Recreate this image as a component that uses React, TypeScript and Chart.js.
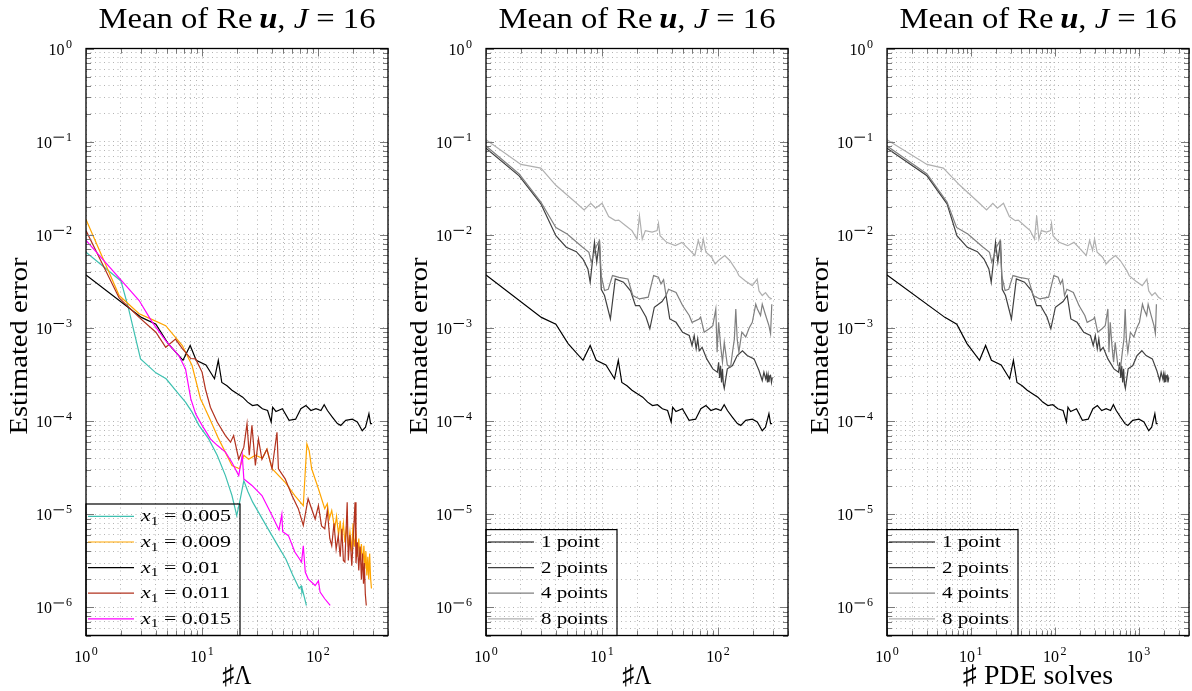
import { useEffect, useRef } from 'react';
import { Chart, registerables } from 'chart.js';

Chart.register(...registerables);

// ---------------- Data ----------------
// Panel 1: #Lambda vs estimated error, different x1
const lambdaX005 = [1, 2.0, 2.31, 2.95, 4.0, 4.9, 6.4, 7.2, 8.2, 9.4, 11.4, 13.5, 15.9, 18.1, 19.9, 21.2, 22.9, 24.8, 27.3, 35.6, 43.3, 52.8, 60, 68.6, 71.5, 72.5, 73.3, 79.3];
const errX005 = [6.5e-3, 3.2e-3, 1.67e-3, 4.66e-4, 3.3e-4, 2.85e-4, 1.9e-4, 1.6e-4, 1.25e-4, 9e-5, 6.45e-5, 4.3e-5, 2.6e-5, 1.59e-5, 9.7e-6, 1.4e-5, 2.3e-5, 1.76e-5, 1.35e-5, 7.6e-6, 5e-6, 3.3e-6, 2.27e-6, 1.6e-6, 1.7e-6, 1.45e-6, 1.55e-6, 1.05e-6];

const lambdaX009 = [1, 1.93, 2.87, 3.73, 4.86, 6.76, 8.2, 9.7, 10, 11.8, 13.9, 18.1, 21, 22.9, 25.2, 28.8, 33, 36.2, 40.1, 52, 63, 74.5, 80, 83.8, 88, 100.6, 114, 120, 125, 131, 139, 144, 150, 155, 159, 165, 170, 176, 182, 188, 195, 200, 205, 212, 218, 224, 230, 236, 242, 248, 253, 258, 263, 268, 273, 278, 283, 288];
const errX009 = [1.46e-2, 2.23e-3, 1.42e-3, 1.23e-3, 1.06e-3, 6.47e-4, 3.95e-4, 1.73e-4, 1.6e-4, 1.02e-4, 6.45e-5, 3.34e-5, 3.08e-5, 4.3e-5, 3.9e-5, 4.3e-5, 4.0e-5, 5e-5, 3.08e-5, 2.2e-5, 1.59e-5, 1.24e-5, 5.7e-5, 4.8e-5, 3.08e-5, 1.88e-5, 1.15e-5, 1.3e-5, 9e-6, 1.1e-5, 7e-6, 9.5e-6, 6e-6, 8.5e-6, 5.5e-6, 8e-6, 5e-6, 7.5e-6, 4.5e-6, 6.5e-6, 4e-6, 8e-6, 4.5e-6, 6e-6, 3.5e-6, 5.5e-6, 3.2e-6, 4.8e-6, 2.8e-6, 4.6e-6, 2.6e-6, 4e-6, 2.2e-6, 3.5e-6, 2.0e-6, 3.8e-6, 2.1e-6, 1.6e-6];

// x1 = 0.01 is the same run as "1 point"
const lambdaOnePoint = [1, 3.0, 4.0, 5.1, 6.85, 7.9, 8.9, 10.8, 12.8, 13.8, 14.8, 16.4, 18.1, 20.3, 22.4, 24.7, 27.2, 30.0, 33.1, 36.7, 39.4, 40.6, 43.3, 49.2, 56.2, 64, 71, 78.5, 86.7, 95.8, 105.7, 112.8, 120.3, 133, 146.6, 156.7, 172.9, 197, 217.6, 240, 256, 274, 283, 292];
const pdeOnePoint = [1, 4.9, 6.8, 9.0, 12.7, 15.0, 17.6, 23.0, 29.0, 32.2, 35.5, 40.9, 47, 55, 63, 72, 83, 95, 109, 126, 138, 144, 155, 182, 214, 251, 286, 323, 364, 411, 464, 501, 542, 612, 689, 746, 853, 1014, 1161, 1324, 1435, 1566, 1630, 1694];
const errOnePoint = [3.7e-3, 1.3e-3, 1.1e-3, 6.8e-4, 4.5e-4, 6.5e-4, 4.5e-4, 4.0e-4, 2.85e-4, 4.5e-4, 2.6e-4, 2.4e-4, 2.15e-4, 1.96e-4, 1.81e-4, 1.6e-4, 1.47e-4, 1.5e-4, 1.36e-4, 1.3e-4, 9.8e-5, 1.41e-4, 1.27e-4, 1.36e-4, 1.02e-4, 1.05e-4, 1.36e-4, 1.47e-4, 1.3e-4, 1.36e-4, 1.3e-4, 1.5e-4, 1.3e-4, 1.1e-4, 9.4e-5, 9.0e-5, 1.02e-4, 1.05e-4, 9.8e-5, 7.9e-5, 8.6e-5, 1.2e-4, 9.4e-5, 9.4e-5];

const lambdaX011 = [1, 1.93, 2.87, 4.0, 4.86, 5.9, 6.76, 8.0, 8.8, 10, 10.7, 11.8, 13.5, 15.9, 17.6, 18.7, 20.7, 22.9, 24.4, 25.5, 26.9, 28.8, 30.6, 32.8, 36.2, 40.1, 44.2, 45.5, 52, 59.5, 67.5, 74.5, 82, 94.3, 100.6, 107, 114, 120, 126, 131, 137, 143, 149, 155, 160, 165, 170, 178, 182, 188, 195, 200, 208, 212, 218, 224, 230, 236, 241, 246, 250, 255, 260];
const errX011 = [1.11e-2, 2.1e-3, 1.3e-3, 9e-4, 6.2e-4, 7.6e-4, 6.0e-4, 4.7e-4, 4.66e-4, 3.36e-4, 2.2e-4, 1.41e-4, 9.8e-5, 7e-5, 5.95e-5, 7e-5, 3.9e-5, 5.26e-5, 9.4e-5, 4.3e-5, 9e-5, 3.34e-5, 6.45e-5, 3.9e-5, 5e-5, 3.08e-5, 7.6e-5, 3.08e-5, 2.4e-5, 1.59e-5, 1.15e-5, 7.6e-6, 1.47e-5, 8.9e-6, 1.24e-5, 7.5e-6, 7e-6, 1.1e-5, 5.5e-6, 4.6e-6, 8e-6, 4.2e-6, 5.9e-6, 3.5e-6, 7e-6, 3.2e-6, 3.07e-6, 1.35e-5, 3.2e-6, 6e-6, 2.8e-6, 5e-6, 1.35e-5, 3e-6, 5e-6, 2.5e-6, 4.5e-6, 2.0e-6, 3.8e-6, 1.8e-6, 3e-6, 1.4e-6, 1.05e-6];

const lambdaX015 = [1, 2.87, 3.73, 4.86, 6.3, 7.2, 8.0, 8.8, 10, 11.8, 13.5, 15.9, 18.1, 20.7, 22.2, 22.9, 26.9, 32.8, 40.1, 46, 48.7, 49.5, 55.5, 63, 72, 74.5, 77.5, 82, 94.3, 100.6, 104, 114, 127];
const errX015 = [8.7e-3, 1.97e-3, 1.15e-3, 7.3e-4, 5.06e-4, 3.64e-4, 1.73e-4, 1.2e-4, 9e-5, 6.45e-5, 5.5e-5, 4.65e-5, 3.6e-5, 2.6e-5, 4.3e-5, 2.4e-5, 2.04e-5, 1.59e-5, 9.7e-6, 6.8e-6, 1.0e-5, 6.5e-6, 5.9e-6, 3.93e-6, 3.07e-6, 4.6e-6, 2.4e-6, 2.03e-6, 1.72e-6, 1.93e-6, 1.46e-6, 1.24e-6, 1.05e-6];

// Panels 2 and 3: number of points
const lambdaTwoPoints = [1, 1.93, 2.97, 4.0, 4.92, 6.0, 6.84, 7.55, 7.9, 8.6, 9.0, 9.5, 9.84, 10.5, 11.8, 13.0, 15.3, 17.6, 19.4, 21, 23.9, 25.8, 28.2, 32.9, 35.6, 38.3, 43.4, 49.4, 56.4, 59.6, 62.2, 64.7, 66.7, 68.7, 72.8, 79.8, 90, 98.5, 101, 103, 105, 107, 109, 111, 113, 120, 133, 146, 162, 178, 204, 225, 240, 248, 257, 262, 266, 270, 274, 278, 283, 288, 293];
const pdeTwoPoints = [1, 3.0, 5.2, 6.82, 9.08, 11.97, 14.35, 16.4, 17.5, 19.7, 21, 22.6, 23.7, 25.9, 30.5, 34.9, 43.7, 53.1, 60.8, 67.8, 81, 90, 102, 126, 141, 156, 185, 222, 267, 288, 305, 322, 336, 350, 379, 431, 509, 577, 597, 614, 631, 647, 664, 680, 697, 752, 855, 960, 1096, 1230, 1462, 1650, 1787, 1862, 1950, 1995, 2033, 2071, 2113, 2148, 2198, 2246, 2296];
const errTwoPoints = [0.085, 4.3e-2, 2.15e-2, 9.8e-3, 7.35e-3, 6.6e-3, 5.5e-3, 4.3e-3, 3.1e-3, 8.3e-3, 5.1e-3, 8.7e-3, 2.6e-3, 2.23e-3, 1.25e-3, 3.36e-3, 3.1e-3, 2.5e-3, 1.74e-3, 1.74e-3, 1.31e-3, 9.8e-4, 1.67e-3, 1.92e-3, 2.23e-3, 1.25e-3, 1.15e-3, 9e-4, 8.3e-4, 6.48e-4, 8.3e-4, 5.97e-4, 7.64e-4, 5.7e-4, 6.2e-4, 4.66e-4, 3.64e-4, 3.35e-4, 4.29e-4, 2.9e-4, 3.9e-4, 2.6e-4, 3.64e-4, 2.5e-4, 2.25e-4, 3.64e-4, 3.95e-4, 5.06e-4, 5.7e-4, 5.06e-4, 4.66e-4, 3.5e-4, 2.73e-4, 3.35e-4, 2.84e-4, 3.2e-4, 2.6e-4, 3.1e-4, 2.62e-4, 3.0e-4, 3.09e-4, 2.6e-4, 2.95e-4];

const lambdaFourPoints = [1, 1.93, 2.97, 4.0, 5.0, 6.76, 7.7, 8.07, 8.9, 9.5, 9.84, 10.5, 11.3, 12.3, 14, 16.7, 18.4, 21, 25, 27.8, 30.6, 32.2, 33.9, 35.6, 37.4, 43.4, 49.4, 56.4, 59.6, 68.7, 70.7, 75.8, 83.7, 90, 95.5, 98, 101, 105, 109, 113, 120, 128, 133, 138, 142, 146, 151, 160, 173, 185, 197, 211, 218, 232, 240, 257, 274, 283, 290];
const pdeFourPoints = [1, 3.0, 5.2, 6.76, 9.2, 13.9, 16.7, 17.8, 20.4, 22.3, 23.4, 25.6, 28.3, 31.8, 38, 48.5, 55.5, 66.5, 84.7, 97.7, 110, 117, 124, 131, 140, 167, 195, 229, 244, 290, 299, 326, 367, 401, 431, 444, 460, 482, 504, 527, 566, 612, 641, 670, 693, 716, 746, 800, 879, 953, 1026, 1114, 1159, 1250, 1303, 1416, 1528, 1589, 1634];
const errFourPoints = [0.09, 4.5e-2, 2.25e-2, 1.2e-2, 1.02e-2, 7.4e-3, 6.5e-3, 5.1e-3, 7.5e-3, 8.67e-3, 3.65e-3, 2.52e-3, 2.6e-3, 3.65e-3, 3.5e-3, 3.36e-3, 2.23e-3, 2.05e-3, 2.14e-3, 3.65e-3, 3.5e-3, 2.97e-3, 3.3e-3, 2.23e-3, 2.6e-3, 2.4e-3, 1.74e-3, 1.36e-3, 1.15e-3, 1.25e-3, 1.31e-3, 9.01e-4, 9.8e-4, 1.06e-3, 1.6e-3, 5.5e-4, 1.15e-3, 6.5e-4, 4.3e-4, 7e-4, 4.0e-4, 3.8e-4, 5.5e-4, 7.6e-4, 1.6e-3, 7.6e-4, 5.5e-4, 9e-4, 8e-4, 1.0e-3, 1.15e-3, 1.8e-3, 1.6e-3, 1.36e-3, 1.8e-3, 1.36e-3, 1.06e-3, 8.7e-4, 1.8e-3];

const lambdaEightPoints = [1, 2.0, 2.97, 4.0, 5.9, 7.0, 8.0, 8.8, 10, 11.4, 13.0, 13.9, 15.9, 18.1, 20, 21, 22.2, 23.6, 27, 29.8, 30.6, 31.6, 36, 42.8, 48.7, 55.5, 63, 67.5, 71.6, 74.5, 78.5, 88, 94.3, 100.6, 114, 126, 144, 151, 172, 197, 217, 225, 240, 256, 274, 290];
const pdeEightPoints = [1, 3.0, 4.7, 7.4, 12.3, 15.4, 18.3, 20.7, 24.5, 28.8, 33.9, 36.8, 43.4, 50.9, 57.5, 61, 64.8, 69.3, 80, 89, 91.6, 95.5, 113, 143, 170, 201, 238, 261, 283, 299, 321, 373, 411, 448, 530, 606, 726, 774, 924, 1107, 1260, 1324, 1445, 1575, 1729, 1862];
const errEightPoints = [0.105, 5.7e-2, 5.2e-2, 3.4e-2, 2.24e-2, 1.85e-2, 2.18e-2, 1.93e-2, 2.18e-2, 1.57e-2, 1.42e-2, 1.44e-2, 1.26e-2, 1.11e-2, 9e-3, 1.6e-2, 9e-3, 1.11e-2, 1.07e-2, 1.11e-2, 1.33e-2, 9.8e-3, 8.3e-3, 7.65e-3, 8.3e-3, 7.06e-3, 6e-3, 8.7e-3, 6.8e-3, 9e-3, 6.5e-3, 5.75e-3, 4.87e-3, 5.3e-3, 6e-3, 5.3e-3, 4.13e-3, 3.65e-3, 3.2e-3, 2.85e-3, 3.35e-3, 2.5e-3, 2.23e-3, 2.4e-3, 2.14e-3, 2.05e-3];

// Labels / axis
const x1Values = ['0.005', '0.009', '0.01', '0.011', '0.015'];
const pointLabels = ['1 point', '2 points', '4 points', '8 points'];
const yExponents = [0, -1, -2, -3, -4, -5, -6];
const lambdaExponents = [0, 1, 2];
const pdeExponents = [0, 1, 2, 3];
const Y_MIN = 5e-7;
const Y_MAX = 1;
const LAMBDA_MAX = 400;
const PDE_MAX = 4000;

// ---------------- Drawing helpers ----------------
const SERIF = '"Liberation Serif", "Times New Roman", serif';
const fnt = (size: number, style = '') => `${style} ${size}px ${SERIF}`.trim();

type Seg = { t?: string; f?: string; dy?: number; rule?: number; gap?: number };

function segW(ctx: CanvasRenderingContext2D, s: Seg) {
  if (s.gap) return s.gap;
  if (s.rule) return s.rule;
  ctx.font = s.f || fnt(16);
  return ctx.measureText(s.t || '').width;
}

function segsWidth(ctx: CanvasRenderingContext2D, segs: Seg[]) {
  let w = 0;
  for (const s of segs) w += segW(ctx, s);
  return w;
}

function drawSegs(ctx: CanvasRenderingContext2D, segs: Seg[], x: number, y: number, align: 'left' | 'center' | 'right', sx = 1) {
  const w = segsWidth(ctx, segs) * sx;
  const x0 = align === 'left' ? x : align === 'center' ? x - w / 2 : x - w;
  ctx.save();
  ctx.translate(x0, y);
  ctx.scale(sx, 1);
  ctx.textAlign = 'left';
  ctx.textBaseline = 'alphabetic';
  ctx.fillStyle = '#000';
  let cx = 0;
  for (const s of segs) {
    const w1 = segW(ctx, s);
    if (s.rule) {
      ctx.fillRect(cx, (s.dy || 0) - 0.5, s.rule, 1);
    } else if (s.t) {
      ctx.font = s.f || fnt(16);
      ctx.fillText(s.t, cx, s.dy || 0);
    }
    cx += w1;
  }
  ctx.restore();
}

const powLabel = (e: number): Seg[] => {
  const segs: Seg[] = [{ t: '10', f: fnt(16) }, { gap: 1.5 }];
  if (e < 0) {
    segs.push({ rule: 10.5, dy: -10.5 });
    segs.push({ gap: 2 });
  }
  segs.push({ t: String(Math.abs(e)), f: fnt(12), dy: -7 });
  return segs;
};

function logTicks(min: number, max: number) {
  const out: { v: number; major: boolean }[] = [];
  for (let e = Math.floor(Math.log10(min)); e <= Math.ceil(Math.log10(max)); e++) {
    for (let m = 1; m <= 9; m++) {
      const v = m * Math.pow(10, e);
      if (v >= min * 0.999999 && v <= max * 1.000001) out.push({ v, major: m === 1 });
    }
  }
  return out;
}

const titleSegs: Seg[] = [
  { t: 'Mean of Re\u2009', f: fnt(29) },
  { t: 'u', f: fnt(29, 'italic bold') },
  { t: ', ', f: fnt(29) },
  { t: 'J', f: fnt(29, 'italic') },
  { t: ' = 16', f: fnt(29) },
];
const yTitleSegs: Seg[] = [{ t: 'Estimated error', f: fnt(26) }];

interface Series { label: Seg[]; color: string; x: number[]; y: number[] }
interface PanelCfg {
  id: string;
  width: number;
  padLeft: number;
  padRight: number;
  xMax: number;
  xExps: number[];
  xTitle: Seg[];
  xTitleWidth: number;
  series: Series[];
  legendTextWidth: number;
}

const x1Label = (v: string): Seg[] => [
  { t: 'x', f: fnt(17, 'italic') },
  { t: '1', f: fnt(12), dy: 3.5 },
  { t: ' = ' + v, f: fnt(17) },
];
const ptLabel = (s: string): Seg[] => [{ t: s, f: fnt(17) }];

const pointColors = ['#000000', '#404040', '#7f7f7f', '#b0b0b0'];

const panels: PanelCfg[] = [
  {
    id: 'p1', width: 400, padLeft: 86, padRight: 12, xMax: LAMBDA_MAX, xExps: lambdaExponents,
    xTitle: [{ t: '\u266FΛ', f: fnt(27) }], xTitleWidth: 29, legendTextWidth: 90,
    series: [
      { label: x1Label(x1Values[0]), color: '#3EC0B0', x: lambdaX005, y: errX005 },
      { label: x1Label(x1Values[1]), color: '#FFA500', x: lambdaX009, y: errX009 },
      { label: x1Label(x1Values[2]), color: '#000000', x: lambdaOnePoint, y: errOnePoint },
      { label: x1Label(x1Values[3]), color: '#B2321E', x: lambdaX011, y: errX011 },
      { label: x1Label(x1Values[4]), color: '#FF00FF', x: lambdaX015, y: errX015 },
    ],
  },
  {
    id: 'p2', width: 400, padLeft: 86, padRight: 12, xMax: LAMBDA_MAX, xExps: lambdaExponents,
    xTitle: [{ t: '\u266FΛ', f: fnt(27) }], xTitleWidth: 29, legendTextWidth: 67,
    series: [
      { label: ptLabel(pointLabels[0]), color: pointColors[0], x: lambdaOnePoint, y: errOnePoint },
      { label: ptLabel(pointLabels[1]), color: pointColors[1], x: lambdaTwoPoints, y: errTwoPoints },
      { label: ptLabel(pointLabels[2]), color: pointColors[2], x: lambdaFourPoints, y: errFourPoints },
      { label: ptLabel(pointLabels[3]), color: pointColors[3], x: lambdaEightPoints, y: errEightPoints },
    ],
  },
  {
    id: 'p3', width: 392, padLeft: 87, padRight: 3, xMax: PDE_MAX, xExps: pdeExponents,
    xTitle: [{ t: '\u266F PDE solves', f: fnt(27) }], xTitleWidth: 150, legendTextWidth: 67,
    series: [
      { label: ptLabel(pointLabels[0]), color: pointColors[0], x: pdeOnePoint, y: errOnePoint },
      { label: ptLabel(pointLabels[1]), color: pointColors[1], x: pdeTwoPoints, y: errTwoPoints },
      { label: ptLabel(pointLabels[2]), color: pointColors[2], x: pdeFourPoints, y: errFourPoints },
      { label: ptLabel(pointLabels[3]), color: pointColors[3], x: pdeEightPoints, y: errEightPoints },
    ],
  },
];

const H = 691;
const PAD_TOP = 48.5;
const PAD_BOTTOM = H - 635.5;

function makePlugin(cfg: PanelCfg) {
  return {
    id: 'decor_' + cfg.id,
    afterDraw(chart: any) {
      const ctx: CanvasRenderingContext2D = chart.ctx;
      const a = chart.chartArea;
      const xs = chart.scales.x;
      const ys = chart.scales.y;
      ctx.save();

      // inside ticks on all four sides
      ctx.strokeStyle = '#7a7a7a';
      ctx.lineWidth = 1;
      ctx.beginPath();
      for (const t of logTicks(Y_MIN, Y_MAX)) {
        const p = Math.round(ys.getPixelForValue(t.v)) + 0.5;
        const L = t.major ? 8 : 5;
        ctx.moveTo(a.left, p); ctx.lineTo(a.left + L, p);
        ctx.moveTo(a.right - L, p); ctx.lineTo(a.right, p);
      }
      for (const t of logTicks(1, cfg.xMax)) {
        const p = Math.round(xs.getPixelForValue(t.v)) + 0.5;
        const L = t.major ? 8 : 5;
        ctx.moveTo(p, a.bottom); ctx.lineTo(p, a.bottom - L);
        ctx.moveTo(p, a.top); ctx.lineTo(p, a.top + L);
      }
      ctx.stroke();

      // frame
      ctx.strokeStyle = '#000';
      ctx.lineWidth = 1.3;
      ctx.strokeRect(a.left, a.top, a.right - a.left, a.bottom - a.top);

      // tick labels
      for (const e of yExponents) {
        const p = ys.getPixelForValue(Math.pow(10, e));
        drawSegs(ctx, powLabel(e), a.left - 14, p + 6, 'right');
      }
      for (const e of cfg.xExps) {
        const p = xs.getPixelForValue(Math.pow(10, e));
        drawSegs(ctx, powLabel(e), p, a.bottom + 26, 'center');
      }

      // title
      const cxA = (a.left + a.right) / 2;
      const tsx = 277 / segsWidth(ctx, titleSegs);
      drawSegs(ctx, titleSegs, cxA, 28, 'center', tsx);

      // y title
      ctx.save();
      ctx.translate(a.left - 59, 346);
      ctx.rotate(-Math.PI / 2);
      drawSegs(ctx, yTitleSegs, 0, 0, 'center', 177 / segsWidth(ctx, yTitleSegs));
      ctx.restore();

      // x title
      drawSegs(ctx, cfg.xTitle, cxA, a.bottom + 48, 'center', cfg.xTitleWidth / segsWidth(ctx, cfg.xTitle));

      // legend
      const n = cfg.series.length;
      let maxW = 0;
      for (const s of cfg.series) maxW = Math.max(maxW, segsWidth(ctx, s.label));
      const lsx = cfg.legendTextWidth / maxW;
      const rowH = 25.6;
      const boxH = n * rowH + 3.5;
      const boxW = 2 + 46 + 7 + cfg.legendTextWidth + 9;
      const bx = a.left;
      const by = a.bottom - boxH;
      cfg.series.forEach((s, i) => {
        const ry = by + 12.4 + i * rowH;
        ctx.strokeStyle = s.color;
        ctx.lineWidth = 1.2;
        ctx.beginPath();
        ctx.moveTo(bx + 2, ry);
        ctx.lineTo(bx + 48, ry);
        ctx.stroke();
        drawSegs(ctx, s.label, bx + 55, ry + 5, 'left', lsx);
      });
      ctx.strokeStyle = '#000';
      ctx.lineWidth = 1.2;
      ctx.strokeRect(bx, by, boxW, boxH);

      ctx.restore();
    },
  };
}

function Panel({ cfg, left }: { cfg: PanelCfg; left: number }) {
  const ref = useRef<HTMLCanvasElement>(null);
  useEffect(() => {
    const canvas = ref.current;
    if (!canvas) return;
    const n = cfg.series.length;
    const gridCommon = {
      color: '#b4b4b4',
      lineWidth: 1,
      drawTicks: false,
    };
    const chart = new Chart(canvas, {
      type: 'line',
      data: {
        datasets: cfg.series.map((s, i) => ({
          label: s.label.map((g) => g.t || '').join(''),
          data: s.x.map((x, j) => ({ x, y: s.y[j] })),
          borderColor: s.color,
          backgroundColor: s.color,
          borderWidth: 1.2,
          pointRadius: 0,
          tension: 0,
          fill: false,
          order: n - i,
        })),
      },
      options: {
        animation: false,
        responsive: false,
        maintainAspectRatio: false,
        devicePixelRatio: 1,
        events: [],
        layout: { padding: { left: cfg.padLeft, right: cfg.padRight, top: PAD_TOP, bottom: PAD_BOTTOM } },
        plugins: { legend: { display: false }, title: { display: false }, tooltip: { enabled: false } },
        scales: {
          x: {
            type: 'logarithmic',
            min: 1,
            max: cfg.xMax,
            ticks: { display: false, autoSkip: false },
            grid: gridCommon,
            border: { display: false, dash: [1, 3.5] },
            afterBuildTicks: (scale: any) => {
              scale.ticks = logTicks(1, cfg.xMax).map((t) => ({ value: t.v }));
            },
            afterFit: (scale: any) => {
              scale.height = 0;
            },
          },
          y: {
            type: 'logarithmic',
            min: Y_MIN,
            max: Y_MAX,
            ticks: { display: false, autoSkip: false },
            grid: gridCommon,
            border: { display: false, dash: [1, 3.5] },
            afterBuildTicks: (scale: any) => {
              scale.ticks = logTicks(Y_MIN, Y_MAX).map((t) => ({ value: t.v }));
            },
            afterFit: (scale: any) => {
              scale.width = 0;
            },
          },
        },
      } as any,
      plugins: [makePlugin(cfg)],
    });
    return () => chart.destroy();
  }, [cfg]);
  return (
    <canvas
      ref={ref}
      width={cfg.width}
      height={H}
      style={{ position: 'absolute', left, top: 0, width: cfg.width, height: H }}
    />
  );
}

export default function App() {
  return (
    <div style={{ position: 'absolute', left: 0, top: 0, width: 1192, height: H, background: '#fff', overflow: 'hidden' }}>
      <Panel cfg={panels[0]} left={0} />
      <Panel cfg={panels[1]} left={400} />
      <Panel cfg={panels[2]} left={800} />
    </div>
  );
}
